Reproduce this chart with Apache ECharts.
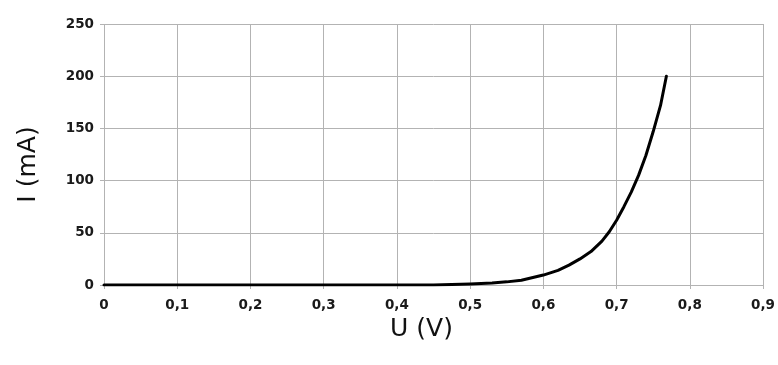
<!DOCTYPE html>
<html><head><meta charset="utf-8">
<script src="https://cdn.jsdelivr.net/npm/echarts@6/dist/echarts.min.js"></script>
<style>html,body{margin:0;padding:0;background:#fff}#c{width:778px;height:365px}</style>
</head><body><div id="c"></div>
<script>
const voltage = [0, 0.1, 0.2, 0.3, 0.4, 0.45, 0.5, 0.53, 0.55, 0.57, 0.6, 0.62, 0.635, 0.65, 0.665, 0.68, 0.69, 0.7, 0.71, 0.72, 0.73, 0.74, 0.75, 0.76, 0.768];
const current = [0, 0, 0, 0, 0, 0, 1, 2, 3, 4.5, 9.5, 14, 19, 25, 32, 42, 51, 62, 75, 89, 105, 124, 147, 172, 200];
const xTitle = 'U (V)';
const yTitle = 'I (mA)';

const chart = echarts.init(document.getElementById('c'), null, {renderer: 'canvas'});
const lbl = {fontFamily: 'DejaVu Sans', fontWeight: 'bold', fontSize: 13.5, color: '#1a1a1a'};
chart.setOption({
  animation: false,
  grid: {left: 104, right: 14, top: 24, bottom: 80, containLabel: false},
  xAxis: {
    type: 'value', min: 0, max: 0.9, interval: 0.1,
    name: xTitle, nameLocation: 'middle', nameGap: 27,
    nameTextStyle: {fontFamily: 'DejaVu Sans', fontSize: 25, color: '#111', padding: [0, 24, 0, 0]},
    axisLine: {show: true, lineStyle: {color: '#b3b3b3', width: 1}},
    axisTick: {show: true, length: 4, lineStyle: {color: '#b3b3b3'}},
    splitLine: {show: true, lineStyle: {color: '#b3b3b3', width: 1}},
    axisLabel: Object.assign({margin: 13, formatter: v => String(Math.round(v*10)/10).replace('.', ',')}, lbl)
  },
  yAxis: {
    type: 'value', min: 0, max: 250, interval: 50,
    name: yTitle, nameLocation: 'middle', nameGap: 63,
    nameTextStyle: {fontFamily: 'DejaVu Sans', fontSize: 25, color: '#111', padding: [0, 20, 0, 0]},
    axisLine: {show: false},
    axisTick: {show: true, length: 4, lineStyle: {color: '#b3b3b3'}},
    splitLine: {show: true, lineStyle: {color: '#b3b3b3', width: 1}},
    axisLabel: Object.assign({margin: 10}, lbl)
  },
  series: [{
    type: 'line',
    data: voltage.map((v, i) => [v, current[i]]),
    showSymbol: false, smooth: false,
    lineStyle: {color: '#000', width: 3, join: 'round', cap: 'round'},
    z: 5
  }]
});
</script></body></html>
